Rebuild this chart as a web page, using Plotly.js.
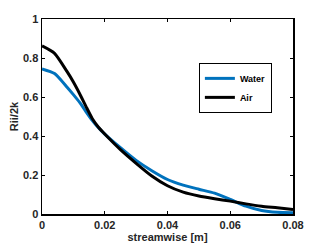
<!DOCTYPE html>
<html><head><meta charset="utf-8">
<script src="https://cdn.plot.ly/plotly-3.0.1.min.js"></script>
<style>html,body{margin:0;padding:0;background:#fff}#c{width:325px;height:244px}</style>
</head><body><div id="c"></div>
<script>
const xs = [0, 0.004, 0.008, 0.010, 0.012, 0.014, 0.016, 0.018, 0.020, 0.025, 0.030, 0.035, 0.040, 0.045, 0.050, 0.055, 0.060, 0.065, 0.070, 0.075, 0.080];
const water = [0.744, 0.72, 0.65, 0.612, 0.572, 0.525, 0.48, 0.442, 0.41, 0.34, 0.275, 0.222, 0.177, 0.148, 0.127, 0.107, 0.075, 0.04, 0.018, 0.009, 0.007];
const air = [0.862, 0.824, 0.73, 0.677, 0.617, 0.552, 0.49, 0.445, 0.41, 0.33, 0.26, 0.195, 0.145, 0.112, 0.092, 0.078, 0.066, 0.052, 0.04, 0.032, 0.023];
const seriesNames = ["Water", "Air"];
const font = {family: "Liberation Sans, Arial, sans-serif", size: 11, color: "#262626"};
const traces = [
  {x: xs, y: water, name: seriesNames[0], mode: "lines", line: {color: "#0072BD", width: 3, shape: "spline", smoothing: 0.6}},
  {x: xs, y: air, name: seriesNames[1], mode: "lines", line: {color: "#000000", width: 3, shape: "spline", smoothing: 0.6}}
];
const axisCommon = {showline: true, linecolor: "#000", linewidth: 1.5, mirror: "ticks", ticks: "inside", ticklen: 3, tickcolor: "#000", showgrid: false, zeroline: false, tickfont: {family: font.family, size: 11, color: "#262626", weight: "bold"}};
const layout = {
  width: 325, height: 244,
  margin: {l: 42, r: 32, t: 19, b: 30},
  paper_bgcolor: "#fff", plot_bgcolor: "#fff",
  font: font,
  showlegend: true,
  legend: {x: 0.625, y: 0.775, xanchor: "left", yanchor: "top", bgcolor: "#fff", bordercolor: "#000", borderwidth: 1, font: {family: font.family, size: 9, color: "#000", weight: "bold"}, itemwidth: 30, tracegroupgap: 0},
  xaxis: Object.assign({}, axisCommon, {range: [0, 0.08], tickvals: [0, 0.02, 0.04, 0.06, 0.08], ticktext: ["0", "0.02", "0.04", "0.06", "0.08"], title: {text: "streamwise [m]", font: {family: font.family, size: 11, color: "#262626", weight: "bold"}, standoff: 2}}),
  yaxis: Object.assign({}, axisCommon, {automargin: true, range: [0, 1], tickvals: [0, 0.2, 0.4, 0.6, 0.8, 1], ticktext: ["0", "0.2", "0.4", "0.6", "0.8", "1"], title: {text: "Rii/2k", font: {family: font.family, size: 11, color: "#262626", weight: "bold"}, standoff: 2}})
};
Plotly.newPlot("c", traces, layout, {staticPlot: true, displayModeBar: false});
</script></body></html>
